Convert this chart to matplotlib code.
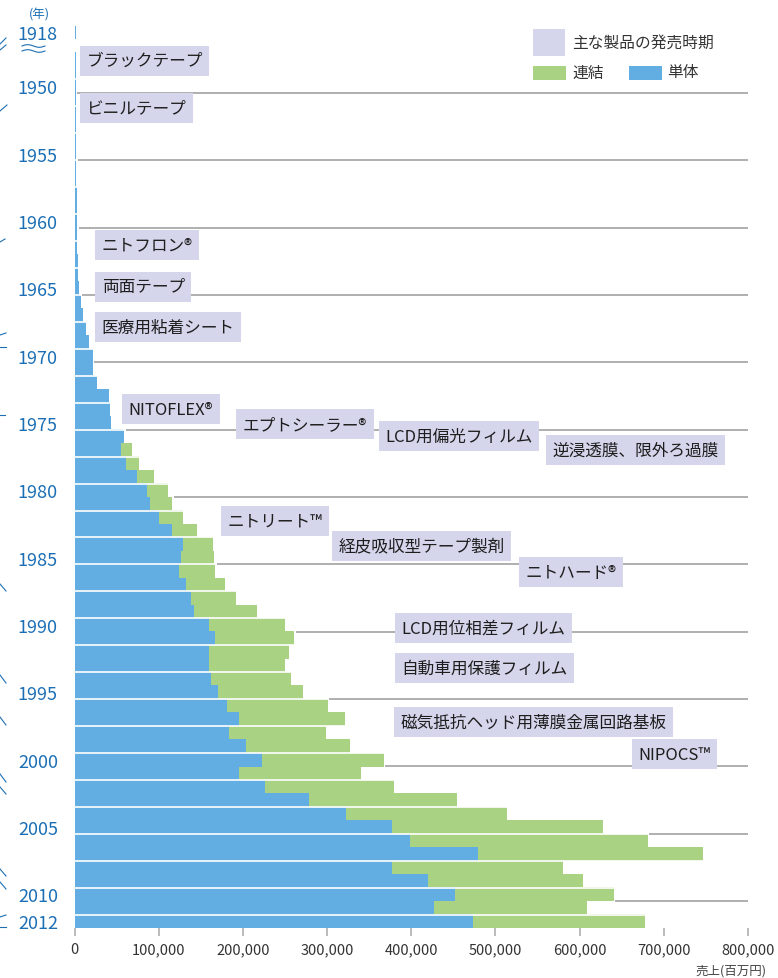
import numpy as np
import matplotlib
matplotlib.use('Agg')
import matplotlib.pyplot as plt
from matplotlib.patches import Rectangle
from matplotlib.lines import Line2D

plt.rcParams['font.family'] = ['Noto Sans CJK JP', 'DejaVu Sans']

# 売上(百万円)
years = [1918] + list(range(1948, 2013))
tantai = [
    1300,                                                           # 1918
    1300, 1400, 1500, 1500, 1600, 1700, 1800, 2000,                 # 1948-1955
    1900, 2100, 2600, 3300, 3300, 3000, 3000, 3800, 4500, 5500,     # 1956-1965
    7700, 10000, 14000, 17500, 21600, 21800, 26400, 41000, 42000, 43500,  # 1966-1975
    58900, 55300, 61200, 74700, 86200, 90100, 100800, 115900, 129400, 126600,  # 1976-1985
    124200, 132600, 138500, 142400, 159900, 167400, 159900, 159900, 162300, 171000,  # 1986-1995
    181300, 195900, 184100, 204300, 223300, 195900, 225700, 278000, 322800, 377500,  # 1996-2005
    398600, 479400, 377500, 420000, 452400, 426600, 473500,         # 2006-2012
]
renketsu_years = list(range(1977, 2013))
renketsu = [
    68700, 76700, 94500, 111500, 115900, 129400, 145700, 164300, 165500,   # 1977-1985
    167100, 179300, 192400, 216200, 250300, 261000, 254200, 250300, 257400, 272000,  # 1986-1995
    300600, 320800, 298200, 327200, 367200, 339800, 379900, 454000, 513900, 627500,  # 1996-2005
    681000, 746500, 580000, 603800, 640600, 608500, 677500,         # 2006-2012
]

year_ticks = [1918, 1950, 1955, 1960, 1965, 1970, 1975, 1980, 1985, 1990,
              1995, 2000, 2005, 2010, 2012]

# 主な製品の発売時期 (label, row position, left x)
products = [
    ('ブラックテープ', 1948.1, 16000),
    ('ビニルテープ', 1951.6, 16000),
    ('ニトフロン®', 1961.8, 34200),
    ('両面テープ', 1964.9, 34200),
    ('医療用粘着シート', 1967.9, 34200),
    ('NITOFLEX®', 1974.0, 66300),
    ('エプトシーラー®', 1975.1, 201700),
    ('LCD用偏光フィルム', 1976.0, 370900),
    ('逆浸透膜、限外ろ過膜', 1977.0, 569600),
    ('ニトリート™', 1982.3, 183900),
    ('経皮吸収型テープ製剤', 1984.1, 315400),
    ('ニトハード®', 1986.1, 537600),
    ('LCD用位相差フィルム', 1990.2, 389900),
    ('自動車用保護フィルム', 1993.2, 389900),
    ('磁気抵抗ヘッド用薄膜金属回路基板', 1997.2, 389400),
    ('NIPOCS™', 1999.6, 671400),
]

BLUE = '#62aee2'
GREEN = '#a9d283'
LAVENDER = '#d5d6ec'
YEAR_COLOR = '#1c6fb5'

W, H = 778, 979


def fpx(x, y):
    return x / W, 1 - y / H


def row(y):
    # 1918 sits right above the axis break
    return 1946 if y == 1918 else y


fig = plt.figure(figsize=(W / 100, H / 100), dpi=100)
ax = fig.add_axes([74.5 / W, 1 - 929.1 / H, (748 - 74.5) / W, (929.1 - 26.6) / H])

pos = [row(y) for y in years]
ax.barh(renketsu_years, renketsu, height=1.04, color=GREEN, linewidth=0, zorder=2)
ax.barh(pos, tantai, height=1.04, color=BLUE, linewidth=0, zorder=2)

# white separators between pairs of years
for y in range(1949, 2012, 2):
    ax.axhline(y + 0.5, color='white', lw=1.2, zorder=3)

# gray lines every 5 years, starting after the longer bar
total = dict(zip(years, tantai))
for y, v in zip(renketsu_years, renketsu):
    total[y] = max(total[y], v)
for y in range(1950, 2011, 5):
    start = max(total[y], total[y + 1]) + 1800
    ax.hlines(y + 0.5, start, 800000, color='#9a9a9a', lw=1.1, zorder=4)

for text, p, x in products:
    ax.text(x - 1800, p, text, ha='left', va='center', fontsize=12, color='#1e1e1e',
            zorder=6, bbox=dict(boxstyle='square,pad=0.39', fc=LAVENDER, ec='none'))

ax.set_xlim(0, 800000)
ax.set_ylim(2012.5, 1945.5)
ax.set_xticks(range(0, 800001, 100000))
ax.set_xticklabels([f'{v:,}' for v in range(0, 800001, 100000)], fontsize=10.5, color='#333333')
ax.tick_params(axis='x', length=6, width=1.3, color='#b5b5b5', pad=4)
ax.set_yticks([row(y) for y in year_ticks])
ax.set_yticklabels([str(y) for y in year_ticks], fontsize=13, color=YEAR_COLOR)
ax.tick_params(axis='y', length=0, pad=12)
for s in ax.spines.values():
    s.set_visible(False)

# legend
fig.patches.append(Rectangle(fpx(533, 57), 32 / W, 27 / H, transform=fig.transFigure,
                             fc=LAVENDER, ec='none'))
fig.patches.append(Rectangle(fpx(533, 80.7), 33 / W, 14 / H, transform=fig.transFigure,
                             fc=GREEN, ec='none'))
fig.patches.append(Rectangle(fpx(629, 80.7), 33 / W, 14 / H, transform=fig.transFigure,
                             fc=BLUE, ec='none'))
fig.text(*fpx(572, 43), '主な製品の発売時期', fontsize=11.3, color='#333333', va='center')
fig.text(*fpx(572, 73), '連結', fontsize=11.3, color='#333333', va='center')
fig.text(*fpx(667, 73), '単体', fontsize=11.3, color='#333333', va='center')

fig.text(*fpx(766, 971), '売上(百万円)', fontsize=9, color='#444444', ha='right', va='center')
fig.text(*fpx(39, 15), '(年)', fontsize=9, color=YEAR_COLOR, ha='center', va='center')

# axis break mark
t = np.linspace(0, 1, 40)
for yb in (47, 52):
    xs = 22 + 23 * t
    ys = yb - 1.3 * np.sin(2 * np.pi * t)
    fig.add_artist(Line2D(xs / W, 1 - ys / H, color=YEAR_COLOR, lw=0.8, transform=fig.transFigure))

# little strokes at the left edge
strokes = [((0, 45), (6, 39)), ((0, 51), (6, 46)), ((0, 112), (7, 106)),
           ((0, 243), (5, 240)), ((0, 336), (6, 334)), ((0, 348), (6, 348)),
           ((0, 416), (5, 416)), ((0, 585), (6, 592)), ((0, 676), (6, 684)),
           ((0, 718), (6, 726)), ((0, 775), (6, 783)), ((0, 788), (6, 795)),
           ((0, 870), (6, 877)), ((0, 883), (6, 890)), ((0, 918), (6, 916)),
           ((0, 928), (6, 928))]
for (x0, y0), (x1, y1) in strokes:
    fig.add_artist(Line2D([x0 / W, x1 / W], [1 - y0 / H, 1 - y1 / H], color=YEAR_COLOR,
                          lw=0.8, transform=fig.transFigure))

fig.savefig('out.png', dpi=100)
